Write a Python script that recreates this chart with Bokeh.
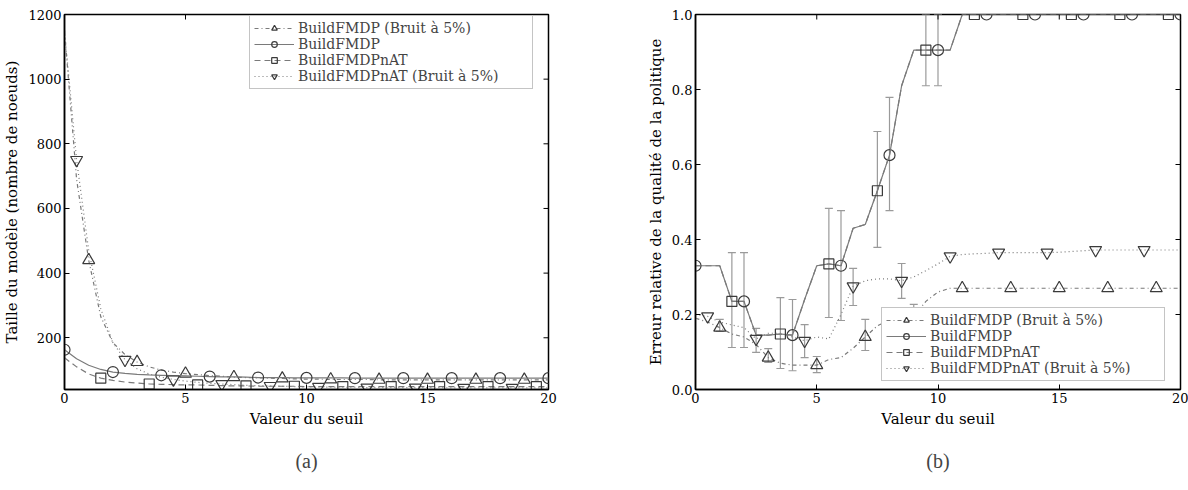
import math
from bokeh.plotting import figure
from bokeh.models import (Range1d, FixedTicker, Legend, LegendItem,
                          Whisker, TeeHead, ColumnDataSource, Title, CustomJSTickFormatter)
from bokeh.layouts import row
from bokeh.embed import file_html
from bokeh.resources import INLINE

# ---------------- data ----------------
SEUIL = [0.0, 0.5, 1.0, 1.5, 2.0, 2.5, 3.0, 3.5, 4.0, 4.5,
         5.0, 5.5, 6.0, 6.5, 7.0, 7.5, 8.0, 8.5, 9.0, 9.5,
         10.0, 10.5, 11.0, 11.5, 12.0, 12.5, 13.0, 13.5, 14.0, 14.5,
         15.0, 15.5, 16.0, 16.5, 17.0, 17.5, 18.0, 18.5, 19.0, 19.5,
         20.0]

NOMS = ["BuildFMDP (Bruit à 5%)", "BuildFMDP", "BuildFMDPnAT", "BuildFMDPnAT (Bruit à 5%)"]

# (a) Taille du modèle
taille_fmdp_bruit = [1150, 690, 440, 265, 185, 148, 125, 110, 100, 94,
                     89, 86, 83, 81, 78, 77, 76, 75, 74, 73,
                     72, 72, 71, 71, 71, 71, 70, 70, 70, 70,
                     70, 70, 70, 70, 70, 70, 70, 70, 70, 70,
                     70]
taille_fmdp = [163, 135, 115, 102, 94, 90, 87, 85, 84, 83,
               82, 81, 80, 79, 79, 78, 77, 77, 77, 76,
               76, 76, 76, 76, 75, 75, 75, 75, 75, 75,
               75, 75, 75, 75, 75, 75, 75, 75, 75, 75,
               75]
taille_nat = [138, 110, 88, 75, 68, 63, 60, 57, 56, 55,
              54, 54, 53, 52, 51, 51, 50, 50, 50, 50,
              49, 49, 49, 49, 49, 49, 49, 49, 49, 49,
              49, 49, 49, 49, 49, 49, 49, 49, 49, 49,
              49]
taille_nat_bruit = [1150, 750, 470, 290, 185, 132, 104, 88, 78, 71,
                    66, 62, 59, 57, 55, 53, 52, 51, 50, 49,
                    48, 48, 47, 47, 47, 46, 46, 46, 46, 46,
                    46, 46, 45, 45, 45, 45, 45, 45, 45, 45,
                    45]

# (b) Erreur relative de la qualité de la politique
err_fmdp_bruit = [0.19, 0.18, 0.165, 0.148, 0.14, 0.12, 0.085, 0.07, 0.065, 0.065,
                  0.065, 0.08, 0.085, 0.11, 0.14, 0.17, 0.185, 0.19, 0.195, 0.235,
                  0.26, 0.27, 0.27, 0.27, 0.27, 0.27, 0.27, 0.27, 0.27, 0.27,
                  0.27, 0.27, 0.27, 0.27, 0.27, 0.27, 0.27, 0.27, 0.27, 0.27,
                  0.27]
err_fmdp = [0.33, 0.33, 0.33, 0.235, 0.235, 0.145, 0.145, 0.148, 0.145, 0.24,
            0.33, 0.335, 0.33, 0.43, 0.44, 0.53, 0.625, 0.81, 0.905, 0.905,
            0.905, 0.905, 1.0, 1.0, 1.0, 1.0, 1.0, 1.0, 1.0, 1.0,
            1.0, 1.0, 1.0, 1.0, 1.0, 1.0, 1.0, 1.0, 1.0, 1.0,
            1.0]
err_nat = [0.33, 0.33, 0.33, 0.235, 0.235, 0.145, 0.145, 0.148, 0.145, 0.24,
           0.33, 0.335, 0.33, 0.43, 0.44, 0.53, 0.625, 0.81, 0.905, 0.905,
           0.905, 0.905, 1.0, 1.0, 1.0, 1.0, 1.0, 1.0, 1.0, 1.0,
           1.0, 1.0, 1.0, 1.0, 1.0, 1.0, 1.0, 1.0, 1.0, 1.0,
           1.0]
err_nat_bruit = [0.2, 0.195, 0.18, 0.172, 0.165, 0.135, 0.15, 0.15, 0.14, 0.13,
                 0.14, 0.135, 0.2, 0.275, 0.29, 0.295, 0.295, 0.29, 0.3, 0.317,
                 0.335, 0.355, 0.36, 0.362, 0.363, 0.365, 0.365, 0.365, 0.365, 0.365,
                 0.366, 0.368, 0.37, 0.372, 0.372, 0.372, 0.372, 0.372, 0.372, 0.372,
                 0.372]

# error bars at the marked points (lower / upper)
bas_fmdp_bruit = [0.155, 0.072, 0.045, 0.104, 0.165, 0.27, 0.27, 0.27, 0.27, 0.27]
haut_fmdp_bruit = [0.187, 0.109, 0.088, 0.187, 0.227, 0.27, 0.27, 0.27, 0.27, 0.27]
bas_fmdp = [0.33, 0.112, 0.05, 0.184, 0.477, 0.81, 1.0, 1.0, 1.0, 1.0, 1.0]
haut_fmdp = [0.33, 0.365, 0.24, 0.477, 0.779, 1.0, 1.0, 1.0, 1.0, 1.0, 1.0]
bas_nat = [0.112, 0.056, 0.192, 0.379, 0.81, 1.0, 1.0, 1.0, 1.0, 1.0]
haut_nat = [0.365, 0.245, 0.483, 0.688, 1.0, 1.0, 1.0, 1.0, 1.0, 1.0]
bas_nat_bruit = [0.195, 0.099, 0.085, 0.224, 0.243, 0.355, 0.365, 0.365, 0.372, 0.372]
haut_nat_bruit = [0.195, 0.163, 0.173, 0.323, 0.336, 0.355, 0.365, 0.365, 0.372, 0.372]

X_TICKS = [0, 5, 10, 15, 20]
Y_TICKS_A = [200, 400, 600, 800, 1000, 1200]
Y_TICKS_B = [0.0, 0.2, 0.4, 0.6, 0.8, 1.0]

# ---------------- styles ----------------
FONT = "DejaVu Serif"
LINE_COL = "#7a7a7a"
MARK_COL = "#3a3a3a"
ERR_COL = "#9a9a9a"
STYLES = [
    dict(marker="triangle", dash="4 3 1 3", offset=2, size=12),
    dict(marker="circle", dash="solid", offset=0, size=11),
    dict(marker="square", dash="6 4", offset=3, size=10),
    dict(marker="inverted_triangle", dash="1 3", offset=1, size=12),
]


def base_fig(ylo, yhi, yticks, ylabel, width, left, right, caption, fmt=None):
    p = figure(width=width, height=490,
               x_range=Range1d(0, 20), y_range=Range1d(ylo, yhi),
               output_backend="svg", toolbar_location=None, title=None,
               min_border_left=left, min_border_right=right,
               min_border_top=14, min_border_bottom=101)
    p.grid.visible = False
    p.background_fill_color = "white"
    p.outline_line_color = "black"
    p.outline_line_width = 1.5
    for ax, ticks in ((p.xaxis[0], X_TICKS), (p.yaxis[0], yticks)):
        ax.ticker = FixedTicker(ticks=ticks)
        ax.major_tick_in = 5
        ax.major_tick_out = 0
        ax.minor_tick_line_color = None
        ax.axis_line_color = "black"
        ax.axis_line_width = 1.5
        ax.major_label_text_font = FONT
        ax.major_label_text_font_size = "13px"
        ax.major_label_text_color = "black"
        ax.axis_label_text_font = FONT
        ax.axis_label_text_font_size = "15px"
        ax.axis_label_text_font_style = "normal"
        ax.axis_label_text_color = "black"
        ax.major_label_standoff = 3
        ax.axis_label_standoff = 4
    p.xaxis[0].axis_label = "Valeur du seuil"
    p.yaxis[0].axis_label = ylabel
    if fmt is not None:
        p.yaxis[0].formatter = CustomJSTickFormatter(code=fmt)
    # inward tick marks on the top and right sides of the frame
    p.scatter(X_TICKS, [yhi] * len(X_TICKS), marker="dash", angle=math.pi / 2,
              size=10, line_color="black", line_width=1)
    p.scatter([20] * len(yticks), yticks, marker="dash", size=10,
              line_color="black", line_width=1)
    cap = Title(text=caption, align="center", text_font="Liberation Serif",
                text_font_size="20px", text_font_style="normal", standoff=34)
    p.add_layout(cap, "below")
    return p


def draw(p, series, bars=None):
    items = []
    for i, (ys, st) in enumerate(zip(series, STYLES)):
        lr = p.line(SEUIL, ys, line_color=LINE_COL, line_width=1.2, line_dash=st["dash"])
        mx = SEUIL[st["offset"]::4]
        my = ys[st["offset"]::4]
        if bars is not None:
            lo, hi = bars[i]
            keep = [k for k in range(len(mx)) if hi[k] > lo[k]]
            if keep:
                src = ColumnDataSource(dict(x=[mx[k] for k in keep],
                                            lower=[lo[k] for k in keep],
                                            upper=[hi[k] for k in keep]))
                w = Whisker(base="x", lower="lower", upper="upper", source=src,
                            line_color=ERR_COL, line_width=1.2, level="underlay",
                            upper_head=TeeHead(size=8, line_color=ERR_COL, line_width=1.2),
                            lower_head=TeeHead(size=8, line_color=ERR_COL, line_width=1.2))
                p.add_layout(w)
        sr = p.scatter(mx, my, marker=st["marker"], size=st["size"],
                       line_color=MARK_COL, line_width=1.2, fill_color=None)
        items.append(LegendItem(label=NOMS[i], renderers=[lr, sr]))
    return items


def add_legend(p, items, loc):
    lg = Legend(items=items, location=loc, label_text_font=FONT,
                label_text_font_size="14px", label_height=14, glyph_height=14,
                glyph_width=40, spacing=0, padding=4, margin=0, label_standoff=4,
                label_width=230, border_line_color="#8a8a8a", border_line_width=1,
                background_fill_color="white", background_fill_alpha=1.0)
    p.add_layout(lg)


p1 = base_fig(40, 1200, Y_TICKS_A, "Taille du modèle (nombre de noeuds)", 600, 63, 52, "(a)")
items1 = draw(p1, [taille_fmdp_bruit, taille_fmdp, taille_nat, taille_nat_bruit])
add_legend(p1, items1, (185, 300))

p2 = base_fig(0, 1.0, Y_TICKS_B, "Erreur relative de la qualité de la politique", 588, 95, 8, "(b)",
              fmt="return tick.toFixed(1);")
items2 = draw(p2, [err_fmdp_bruit, err_fmdp, err_nat, err_nat_bruit],
              bars=[(bas_fmdp_bruit, haut_fmdp_bruit), (bas_fmdp, haut_fmdp),
                    (bas_nat, haut_nat), (bas_nat_bruit, haut_nat_bruit)])
add_legend(p2, items2, (186, 8))

layout = row(p1, p2)
open("out.html", "w").write(file_html(layout, INLINE))
